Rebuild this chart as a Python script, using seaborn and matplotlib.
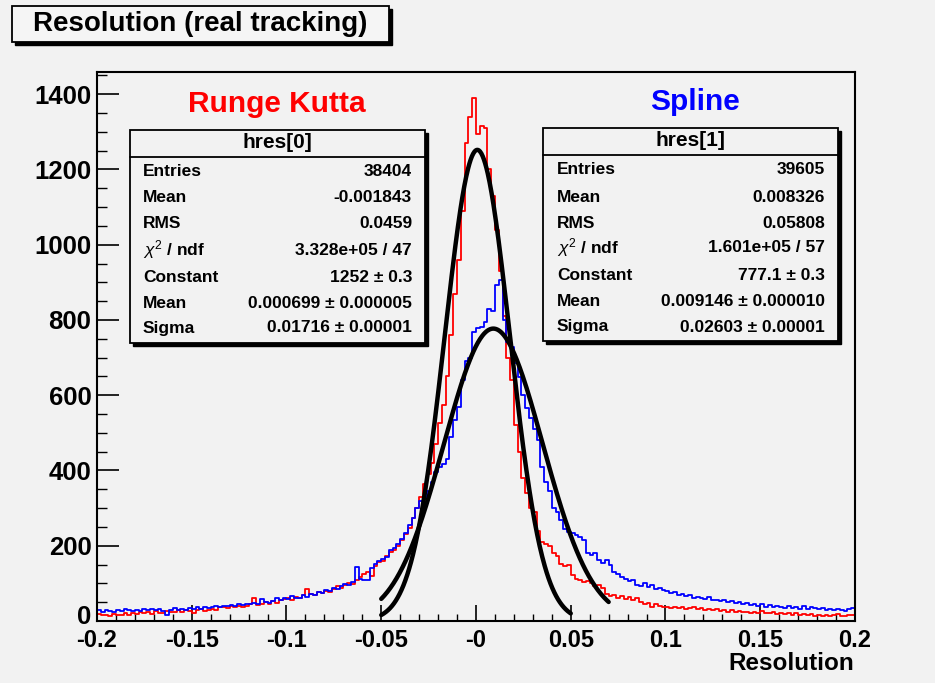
import numpy as np
import pandas as pd
import matplotlib
matplotlib.use("Agg")
import matplotlib.pyplot as plt
import matplotlib.transforms as mtransforms
from matplotlib.patches import Rectangle
import seaborn as sns

# ---------------------------------------------------------------- data
x_min, x_max, n_bins = -0.2, 0.2, 200

# Runge Kutta residuals, 200 bins of width 0.002 from -0.2 to 0.2
rk_counts = [
    18, 15, 17, 14, 19, 16, 15, 20, 17, 22,
    19, 23, 20, 25, 18, 26, 22, 21, 27, 24,
    23, 28, 25, 30, 26, 22, 29, 31, 27, 30,
    33, 29, 36, 38, 34, 40, 37, 41, 36, 39,
    44, 61, 42, 46, 50, 45, 52, 48, 55, 58,
    60, 57, 64, 62, 68, 85, 72, 70, 76, 74,
    80, 78, 86, 92, 88, 95, 102, 98, 108, 118,
    125, 130, 120, 145, 157, 160, 172, 183, 190, 200,
    215, 230, 248, 275, 300, 330, 365, 390, 420, 470,
    525, 575, 650, 760, 870, 960, 1090, 1270, 1340, 1390,
    1295, 1315, 1310, 1200, 1130, 1040, 930, 810, 700, 640,
    520, 450, 380, 340, 300, 290, 240, 210, 205, 198,
    180, 172, 152, 145, 149, 122, 112, 108, 104, 106,
    100, 92, 97, 88, 72, 66, 70, 62, 66, 58,
    63, 55, 60, 50, 45, 48, 38, 44, 40, 36,
    37, 35, 38, 34, 36, 33, 35, 37, 32, 34,
    30, 32, 29, 31, 27, 30, 25, 28, 24, 26,
    23, 25, 22, 24, 21, 26, 20, 22, 23, 19,
    21, 18, 22, 17, 20, 15, 19, 16, 18, 14,
    17, 13, 16, 12, 15, 18, 13, 14, 16, 15,
]

# Spline residuals, same binning
sp_counts = [
    28, 25, 30, 26, 24, 29, 27, 31, 28, 26,
    30, 27, 32, 29, 33, 28, 31, 26, 17, 30,
    34, 29, 33, 30, 35, 31, 36, 33, 38, 34,
    37, 40, 36, 41, 39, 43, 40, 44, 42, 46,
    45, 48, 44, 58, 50, 47, 53, 62, 55, 60,
    58, 66, 62, 60, 70, 64, 72, 68, 78, 75,
    82, 80, 88, 85, 92, 98, 95, 104, 144, 112,
    110, 108, 140, 152, 160, 165, 170, 188, 195, 205,
    218, 235, 255, 275, 300, 318, 330, 345, 370, 395,
    410, 418, 430, 490, 535, 570, 640, 690, 700, 768,
    778, 780, 795, 828, 825, 893, 906, 800, 742, 728,
    685, 648, 600, 565, 540, 510, 480, 410, 370, 345,
    300, 290, 268, 245, 236, 234, 228, 222, 216, 182,
    175, 181, 162, 155, 162, 150, 130, 125, 118, 112,
    105, 110, 96, 92, 100, 90, 95, 85, 88, 82,
    80, 75, 78, 70, 72, 66, 70, 62, 64, 60,
    58, 63, 55, 57, 52, 56, 50, 53, 47, 51,
    45, 48, 42, 46, 40, 44, 38, 42, 36, 40,
    38, 35, 41, 34, 37, 33, 39, 32, 36, 34,
    31, 34, 29, 32, 28, 33, 30, 27, 31, 35,
]

# Gaussian fit results (constant, mean, sigma) and fit ranges
rk_fit = [1252.0, 0.000699, 0.01716]
sp_fit = [777.1, 0.009146, 0.02603]
rk_range = [-0.05, 0.05]
sp_range = [-0.05, 0.07]

# statistics boxes
rk_stats = [
    ("Entries", "38404"),
    ("Mean", "-0.001843"),
    ("RMS", "0.0459"),
    (r"$\chi^{2}$ / ndf", "3.328e+05 / 47"),
    ("Constant", "1252 \u00b1 0.3"),
    ("Mean", "0.000699 \u00b1 0.000005"),
    ("Sigma", "0.01716 \u00b1 0.00001"),
]
sp_stats = [
    ("Entries", "39605"),
    ("Mean", "0.008326"),
    ("RMS", "0.05808"),
    (r"$\chi^{2}$ / ndf", "1.601e+05 / 57"),
    ("Constant", "777.1 \u00b1 0.3"),
    ("Mean", "0.009146 \u00b1 0.000010"),
    ("Sigma", "0.02603 \u00b1 0.00001"),
]

x_ticks = [-0.2, -0.15, -0.1, -0.05, 0.0, 0.05, 0.1, 0.15, 0.2]
x_tick_labels = ["-0.2", "-0.15", "-0.1", "-0.05", "-0", "0.05", "0.1", "0.15", "0.2"]
y_ticks = [0, 200, 400, 600, 800, 1000, 1200, 1400]

# ---------------------------------------------------------------- style
sns.set_style("ticks", {"text.color": "black", "axes.labelcolor": "black",
                        "xtick.color": "black", "ytick.color": "black",
                        "axes.edgecolor": "black"})
BG = "#f2f2f2"
plt.rcParams["font.family"] = ["Liberation Sans", "DejaVu Sans"]
plt.rcParams["mathtext.fontset"] = "custom"
plt.rcParams["mathtext.rm"] = "Liberation Sans"
plt.rcParams["mathtext.it"] = "Liberation Sans:italic"

W, H = 935, 683
fig = plt.figure(figsize=(W / 100, H / 100), dpi=100, facecolor=BG)


def fx(px):
    return px / W


def fy(py):
    return 1 - py / H


ax = fig.add_axes([fx(97), fy(621), fx(855) - fx(97), fy(72) - fy(621)])
ax.set_facecolor(BG)

bin_w = (x_max - x_min) / n_bins
centers = x_min + bin_w * (np.arange(n_bins) + 0.5)
hist_df = pd.DataFrame({"x": centers, "rk": rk_counts, "sp": sp_counts})

for col, colour in [("rk", "#ff0000"), ("sp", "#0000ff")]:
    sns.histplot(data=hist_df, x="x", weights=col, binwidth=bin_w,
                 binrange=(x_min, x_max), element="step", fill=False,
                 color=colour, linewidth=1.3, ax=ax)


def gauss_curve(params, xr):
    c, m, s = params
    xs = np.linspace(xr[0], xr[1], 300)
    return pd.DataFrame({"x": xs, "y": c * np.exp(-0.5 * ((xs - m) / s) ** 2)})


for params, xr in [(rk_fit, rk_range), (sp_fit, sp_range)]:
    sns.lineplot(data=gauss_curve(params, xr), x="x", y="y", color="black",
                 linewidth=3.2, ax=ax, zorder=5)

ax.set_xlim(x_min, x_max)
ax.set_ylim(0, 1459)
ax.set_xticks(x_ticks)
ax.set_xticklabels(x_tick_labels)
ax.set_yticks(y_ticks)
ax.set_xticks(np.arange(-0.2, 0.2001, 0.01), minor=True)
ax.set_yticks(np.arange(0, 1451, 50), minor=True)
ax.tick_params(axis="x", which="major", direction="in", length=11.5, width=1.2, pad=6)
ax.tick_params(axis="x", which="minor", direction="in", length=5, width=1.0)
ax.tick_params(axis="y", which="major", direction="in", length=16, width=1.2, pad=4)
ax.tick_params(axis="y", which="minor", direction="in", length=7, width=1.0)
for lab in ax.get_xticklabels():
    lab.set_fontweight("bold")
    lab.set_fontsize(17)
for lab in ax.get_yticklabels():
    lab.set_fontweight("bold")
    lab.set_fontsize(18.5)
# lift the "0" label a little so it clears the first x label
zero_lab = ax.get_yticklabels()[0]
zero_lab.set_transform(zero_lab.get_transform() +
                       mtransforms.ScaledTranslation(0, 5 / 72, fig.dpi_scale_trans))
for sp in ax.spines.values():
    sp.set_linewidth(1.5)
    sp.set_color("black")
ax.set_xlabel("")
ax.set_ylabel("")
fig.text(fx(854), fy(664), "Resolution", ha="right", va="center",
         fontweight="bold", fontsize=17.5)

# series names
fig.text(fx(277), fy(104), "Runge Kutta", color="#ff0000", ha="center",
         va="center", fontweight="bold", fontsize=21.5)
fig.text(fx(695), fy(102), "Spline", color="#0000ff", ha="center",
         va="center", fontweight="bold", fontsize=21.5)


def framed_box(x0, y0, x1, y1, shadow=3, lw=1.3, face=BG):
    fig.patches.append(Rectangle((fx(x0 + shadow), fy(y1 + shadow)),
                                 fx(x1) - fx(x0), fy(y0) - fy(y1),
                                 transform=fig.transFigure, facecolor="black",
                                 edgecolor="black", zorder=10))
    fig.patches.append(Rectangle((fx(x0), fy(y1)), fx(x1) - fx(x0),
                                 fy(y0) - fy(y1), transform=fig.transFigure,
                                 facecolor=face, edgecolor="black",
                                 linewidth=lw, zorder=11))


# title
framed_box(12, 6, 389, 42, shadow=3, face="#f5f5f5")
fig.text(fx(200), fy(24), "Resolution (real tracking)", ha="center",
         va="center", fontweight="bold", fontsize=20, zorder=12)


def stat_box(x0, y0, x1, y1, name, rows, header_y, line_y, row_y, lab_x, val_x):
    framed_box(x0, y0, x1, y1, shadow=3)
    fig.add_artist(plt.Line2D([fx(x0), fx(x1)], [fy(line_y), fy(line_y)],
                              color="black", linewidth=1.3, zorder=12))
    fig.text(fx((x0 + x1) / 2), fy(header_y), name, ha="center", va="center",
             fontweight="bold", fontsize=15, zorder=12)
    for (lab, val), yy in zip(rows, row_y):
        fig.text(fx(lab_x), fy(yy), lab, ha="left", va="center",
                 fontweight="bold", fontsize=12.5, zorder=12)
        fig.text(fx(val_x), fy(yy), val, ha="right", va="center",
                 fontweight="bold", fontsize=12.5, zorder=12)


stat_box(130, 130, 425, 343, "hres[0]", rk_stats, 143, 157,
         [172, 198, 223, 250, 277, 303, 328], 143, 412)
stat_box(543, 128, 838, 341, "hres[1]", sp_stats, 141, 155,
         [170, 197, 223, 248, 276, 302, 327], 557, 825)

fig.savefig("out.png", dpi=100, facecolor=BG)
